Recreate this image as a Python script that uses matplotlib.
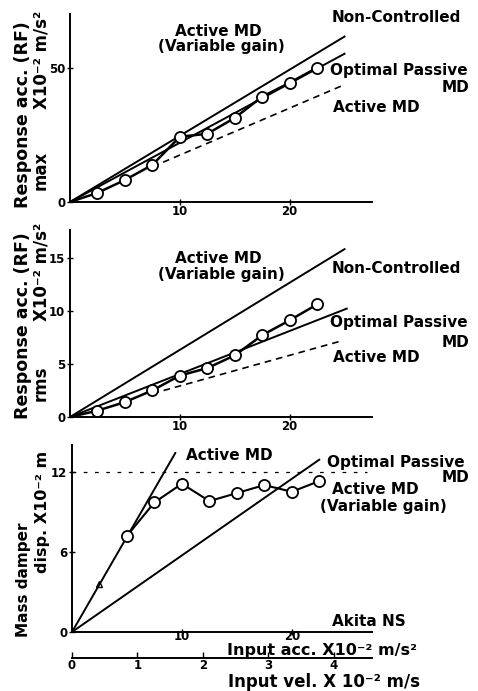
import matplotlib.pyplot as plt

# ---- data ----
acc_in = [2.5, 5.0, 7.5, 10.0, 12.5, 15.0, 17.5, 20.0, 22.5]

# top panel: max response acc.
max_var_gain = [3.4, 8.2, 13.8, 24.3, 25.4, 31.3, 39.2, 44.4, 50.0]
max_nc_x, max_nc_y = [0, 25], [0, 61.6]
max_opt_x, max_opt_y = [0, 25], [0, 55.2]
max_act_x, max_act_y = [7.5, 25], [13.1, 43.7]

# middle panel: rms response acc.
rms_var_gain = [0.6, 1.4, 2.5, 3.9, 4.6, 5.8, 7.7, 9.1, 10.6]
rms_nc_x, rms_nc_y = [0, 25], [0, 15.8]
rms_opt_x, rms_opt_y = [0, 25.2], [0, 10.2]
rms_act_x, rms_act_y = [7.5, 24.5], [2.2, 7.1]

# bottom panel: mass damper displacement
disp_var_gain = [3.6, 7.2, 9.7, 11.1, 9.8, 10.4, 11.0, 10.5, 11.3]
disp_act_x, disp_act_y = [0, 9.4], [0, 13.4]
disp_opt_x, disp_opt_y = [0, 22.5], [0, 12.9]
disp_limit_x, disp_limit_y = [0, 26.8], [12, 12]

W, H = 478, 691
plt.rcParams['font.family'] = ['DejaVu Sans']
plt.rcParams['font.weight'] = 'bold'

fig = plt.figure(figsize=(W / 100, H / 100), dpi=100, facecolor='white')


def px(x, y):
    return x / W, 1 - y / H


def make_axes(left, top, right, bottom, xmax, ymax, yticks, xpad=0):
    ax = fig.add_axes([left / W, 1 - bottom / H, (right - left) / W, (bottom - top) / H])
    ax.set_xlim(0, xmax)
    ax.set_ylim(0, ymax)
    for s in ['top', 'right']:
        ax.spines[s].set_visible(False)
    for s in ['left', 'bottom']:
        ax.spines[s].set_linewidth(1.4)
    ax.set_xticks([10, 20])
    ax.set_yticks(yticks)
    ax.tick_params(direction='inout', length=5, width=1.0, labelsize=8.5, pad=1)
    ax.tick_params(axis='x', pad=xpad)
    ax.patch.set_alpha(0)
    return ax


def label(x, y, s, size=11, **kw):
    fig.text(*px(x, y), s, fontsize=size, fontweight='bold', **kw)


def ylab(x, y, s, size):
    label(x, y, s, size=size, rotation=90, ha='center', va='center')


circle = dict(marker='o', markersize=8, markerfacecolor='white',
              markeredgecolor='black', markeredgewidth=1.3)

# ---------------- top ----------------
ax1 = make_axes(70, 14, 372, 202, 27.5, 70, [0, 50])
ax1.plot(max_nc_x, max_nc_y, color='black', lw=1.4)
ax1.plot(max_opt_x, max_opt_y, color='black', lw=1.4)
ax1.plot(max_act_x, max_act_y, color='black', lw=1.2, ls=(0, (4, 3)))
ax1.plot([0] + acc_in, [0] + max_var_gain, color='black', lw=1.8,
         markevery=list(range(1, len(acc_in) + 1)), **circle)

label(218, 31, 'Active MD', ha='center', va='center')
label(221, 46, '(Variable gain)', ha='center', va='center')
label(332, 18, 'Non-Controlled', ha='left', va='center')
label(330, 70, 'Optimal Passive', ha='left', va='center')
label(469, 87, 'MD', ha='right', va='center')
label(333, 107, 'Active MD', ha='left', va='center')

ylab(23, 115, 'Response acc. (RF)', 12.5)
ylab(41, 60, 'X10⁻² m/s²', 12)
ylab(41, 170, 'max', 12)

# ---------------- middle ----------------
ax2 = make_axes(70, 230, 372, 417, 27.5, 17.6, [0, 5, 10, 15])
ax2.plot(rms_nc_x, rms_nc_y, color='black', lw=1.4)
ax2.plot(rms_opt_x, rms_opt_y, color='black', lw=1.4)
ax2.plot(rms_act_x, rms_act_y, color='black', lw=1.2, ls=(0, (4, 3)))
ax2.plot([0] + acc_in, [0] + rms_var_gain, color='black', lw=1.8,
         markevery=list(range(1, len(acc_in) + 1)), **circle)

label(218, 259, 'Active MD', ha='center', va='center')
label(221, 275, '(Variable gain)', ha='center', va='center')
label(332, 269, 'Non-Controlled', ha='left', va='center')
label(330, 323, 'Optimal Passive', ha='left', va='center')
label(469, 342, 'MD', ha='right', va='center')
label(333, 358, 'Active MD', ha='left', va='center')

ylab(23, 326, 'Response acc. (RF)', 12.5)
ylab(41, 272, 'X10⁻² m/s²', 12)
ylab(41, 383, 'rms', 12)

# ---------------- bottom ----------------
ax3 = make_axes(72, 445, 372, 632, 27.3, 14, [0, 6, 12], xpad=-4)
ax3.plot(disp_act_x, disp_act_y, color='black', lw=1.4)
ax3.plot(disp_opt_x, disp_opt_y, color='black', lw=1.4)
ax3.plot(disp_limit_x, disp_limit_y, color='black', lw=0.9, ls=(0, (3, 6)))
ax3.plot(acc_in[1:], disp_var_gain[1:], color='black', lw=1.5, **circle)
ax3.plot(acc_in[:1], disp_var_gain[:1], color='black', marker='^',
         markersize=4, markerfacecolor='none', lw=0)

vel = ax3.secondary_xaxis(-0.139, functions=(lambda a: a / 5.95, lambda v: v * 5.95))
vel.set_xticks([0, 1, 2, 3, 4])
vel.spines['bottom'].set_linewidth(1.4)
vel.tick_params(direction='in', length=4, width=1.0, labelsize=8.5, pad=1)

label(186, 455, 'Active MD', ha='left', va='center')
label(327, 462, 'Optimal Passive', ha='left', va='center')
label(469, 477, 'MD', ha='right', va='center')
label(332, 490, 'Active MD', ha='left', va='center')
label(320, 506, '(Variable gain)', ha='left', va='center')
label(332, 622, 'Akita NS', ha='left', va='center')
label(227, 651, 'Input acc. X10⁻² m/s²', size=11.5, ha='left', va='center')
label(228, 682, 'Input vel. X 10⁻² m/s', size=12, ha='left', va='center')

ylab(24, 580, 'Mass damper', 11)
ylab(42, 512, 'disp. X10⁻² m', 11.5)

fig.savefig('out.png', dpi=100)
